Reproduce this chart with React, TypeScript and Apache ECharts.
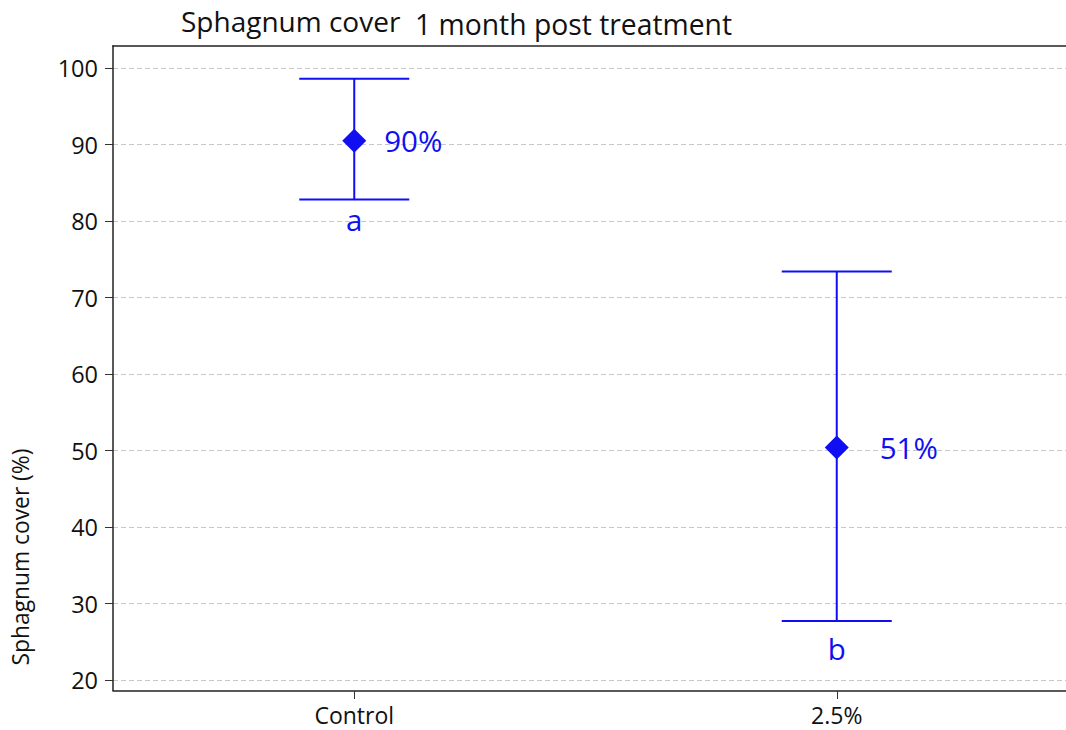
import React, { useEffect, useRef } from "react";
import * as echarts from "echarts";

const categories = ["Control", "2.5%"];
const means = [90.5, 50.4];
const lowers = [82.8, 27.7];
const uppers = [98.6, 73.4];
const meanLabels = ["90%", "51%"];
const letters = ["a", "b"];
const yTicks = { min: 20, max: 100, interval: 10 };

const BLUE = "#0f0ff2";
const FONT = "'Open Sans', 'Noto Sans', sans-serif";

export default function App() {
  const ref = useRef<HTMLDivElement>(null);
  useEffect(() => {
    document.body.style.margin = "0";
    const chart = echarts.init(ref.current!, undefined, { renderer: "svg" });
    const labelGaps = [18, 31];
    const letterGaps = [4, 12];
    const option: any = {
      animation: false,
      backgroundColor: "#ffffff",
      textStyle: { fontFamily: FONT },
      grid: { left: 113, top: 68, width: 965, height: 612, outerBoundsMode: "none", containLabel: false },
      xAxis: [
        {
          type: "category",
          data: categories,
          offset: 11,
          axisLine: { show: true, lineStyle: { color: "#222", width: 1.5 } },
          axisTick: { show: true, alignWithLabel: true, length: 8, lineStyle: { color: "#333" } },
          axisLabel: { color: "#111", fontSize: 23, fontFamily: FONT, margin: 12 },
          splitLine: { show: false },
        },
        {
          type: "category",
          data: categories,
          position: "top",
          offset: 22,
          axisLine: { show: true, lineStyle: { color: "#222", width: 1.5 } },
          axisTick: { show: false },
          axisLabel: { show: false },
          splitLine: { show: false },
        },
      ],
      yAxis: {
        type: "value",
        min: yTicks.min,
        max: yTicks.max,
        interval: yTicks.interval,
        axisLine: { show: false },
        axisTick: { show: true, length: 8, lineStyle: { color: "#333" } },
        axisLabel: { color: "#111", fontSize: 23.5, fontFamily: FONT, margin: 15 },
        splitLine: { show: true, lineStyle: { color: "#c8c8c8", type: [5, 3], width: 1 } },
      },
      title: [
        {
          text: "Sphagnum cover",
          left: 176,
          top: 2,
          textStyle: { fontSize: 28, fontWeight: "normal", color: "#111", fontFamily: FONT },
        },
        {
          text: "1 month post treatment",
          left: 410,
          top: 5,
          textStyle: { fontSize: 28.3, fontWeight: "normal", color: "#111", fontFamily: FONT },
        },
      ],
      graphic: [
        {
          type: "line",
          shape: { x1: 113, y1: 45.3, x2: 113, y2: 691 },
          style: { stroke: "#222", lineWidth: 1.5 },
          z: 10,
        },
        {
          type: "text",
          x: 20,
          y: 557,
          rotation: Math.PI / 2,
          style: {
            text: "Sphagnum cover (%)",
            fontSize: 22.8,
            fontFamily: FONT,
            fill: "#111",
            align: "center",
            verticalAlign: "middle",
          },
        },
      ],
      series: [
        {
          type: "custom",
          data: categories.map((_, i) => [i, lowers[i], uppers[i]]),
          renderItem: (params: any, api: any) => {
            const idx = api.value(0);
            const lo = api.coord([idx, api.value(1)]);
            const hi = api.coord([idx, api.value(2)]);
            const half = 55;
            const style = { stroke: BLUE, lineWidth: 2 };
            return {
              type: "group",
              children: [
                { type: "line", shape: { x1: lo[0], y1: lo[1], x2: hi[0], y2: hi[1] }, style },
                { type: "line", shape: { x1: lo[0] - half, y1: lo[1], x2: lo[0] + half, y2: lo[1] }, style },
                { type: "line", shape: { x1: hi[0] - half, y1: hi[1], x2: hi[0] + half, y2: hi[1] }, style },
              ],
            };
          },
          z: 2,
        },
        {
          type: "scatter",
          symbol: "diamond",
          symbolSize: 24,
          itemStyle: { color: BLUE, opacity: 1 },
          data: means.map((v, i) => ({
            value: [i, v],
            label: { distance: labelGaps[i] },
          })),
          label: {
            show: true,
            position: "right",
            formatter: (p: any) => meanLabels[p.dataIndex],
            color: BLUE,
            fontSize: 29.5,
            fontFamily: FONT,
          },
          z: 3,
        },
        {
          type: "scatter",
          symbolSize: 1,
          itemStyle: { color: "#ffffff", opacity: 1 },
          data: lowers.map((v, i) => ({
            value: [i, v],
            label: { distance: letterGaps[i] },
          })),
          label: {
            show: true,
            position: "bottom",
            formatter: (p: any) => letters[p.dataIndex],
            color: BLUE,
            fontSize: 29.5,
            fontFamily: FONT,
          },
          z: 1,
        },
      ],
    };
    chart.setOption(option);
    return () => chart.dispose();
  }, []);
  return (
    <div
      ref={ref}
      style={{ position: "absolute", left: 0, top: 0, width: 1066, height: 730 }}
    />
  );
}
